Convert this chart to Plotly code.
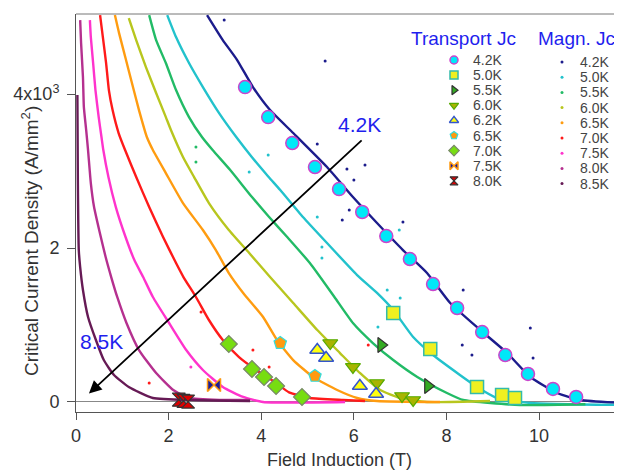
import plotly.graph_objects as go

# ---------------- data ----------------
temps_magn = ["4.2K", "5.0K", "5.5K", "6.0K", "6.5K", "7.0K", "7.5K", "8.0K", "8.5K"]
magn_colors = ["#1c1c8c", "#22c2cc", "#22bb66", "#b8c61e", "#ff9c10", "#ff1a1a", "#ff33cc", "#b5308f", "#661a55"]

m42_x = [2.83, 3.17, 3.48, 3.82, 4.19, 4.69, 5.42, 5.98, 6.50, 7.06, 7.58, 8.08, 8.73, 9.31, 9.81, 10.39, 10.89, 11.79]
m42_y = [5026, 4701, 4442, 4091, 3792, 3494, 3052, 2662, 2325, 1974, 1675, 1286, 935, 636, 325, 117, 26, -13]
m50_x = [1.97, 2.16, 2.44, 2.74, 3.09, 3.46, 3.80, 4.15, 4.41, 4.90, 5.42, 6.07, 6.50, 6.85, 7.28, 7.71, 8.29, 8.66, 9.09, 9.81, 11.79]
m50_y = [5026, 4740, 4403, 4091, 3753, 3442, 3180, 2930, 2753, 2403, 2065, 1649, 1416, 1195, 844, 610, 351, 195, 52, -13, -39]
m55_x = [1.58, 1.73, 1.94, 2.16, 2.44, 2.72, 2.95, 3.33, 3.80, 4.17, 4.56, 5.05, 5.58, 5.98, 6.41, 6.85, 7.37, 8.01, 8.36, 9.59, 11.0]
m55_y = [5026, 4701, 4403, 4052, 3701, 3442, 3273, 3013, 2662, 2403, 2143, 1805, 1364, 1026, 766, 545, 325, 117, 26, -39, -30]
m60_x = [1.14, 1.30, 1.51, 1.73, 1.94, 2.05, 2.31, 2.55, 2.87, 3.30, 3.74, 4.19, 4.69, 5.21, 5.70, 6.13, 6.57, 7.00, 7.58, 8.94]
m60_y = [4987, 4701, 4351, 4013, 3701, 3532, 3182, 2922, 2584, 2234, 1935, 1623, 1286, 935, 636, 377, 156, 52, 0, 13]
m65_x = [0.84, 0.93, 1.08, 1.23, 1.36, 1.53, 1.66, 1.94, 2.31, 2.74, 3.02, 3.30, 3.61, 4.04, 4.34, 4.69, 5.12, 5.64, 6.07, 6.50, 7.86]
m65_y = [5026, 4792, 4442, 4091, 3792, 3442, 3273, 2974, 2584, 2234, 1974, 1675, 1416, 1104, 805, 545, 325, 156, 52, 13, 0]
m70_x = [0.52, 0.58, 0.65, 0.71, 0.79, 0.92, 1.06, 1.30, 1.58, 1.88, 2.16, 2.32, 2.59, 2.87, 3.17, 3.52, 3.89, 4.32, 4.60, 5.05, 5.77, 6.24]
m70_y = [5026, 4740, 4403, 4052, 3792, 3494, 3273, 2922, 2532, 2143, 1805, 1623, 1364, 1065, 805, 584, 416, 247, 125, 52, 26, 13]
m75_x = [0.30, 0.32, 0.37, 0.42, 0.49, 0.55, 0.59, 0.70, 0.86, 1.07, 1.26, 1.45, 1.66, 2.01, 2.38, 2.74, 3.17, 3.61, 4.04, 5.81]
m75_y = [4961, 4740, 4403, 4052, 3701, 3442, 3273, 2922, 2532, 2143, 1844, 1623, 1364, 1026, 675, 416, 195, 65, 0, 0]
m80_x = [0.09, 0.11, 0.15, 0.17, 0.22, 0.26, 0.32, 0.39, 0.50, 0.64, 0.76, 0.89, 1.09, 1.36, 1.73, 2.10, 2.44, 3.11, 3.76]
m80_y = [4961, 4662, 4221, 3831, 3532, 3273, 2844, 2532, 2234, 1883, 1623, 1364, 1026, 675, 377, 156, 52, 26, 26]
m85_x = [0.03, 0.04, 0.06, 0.09, 0.15, 0.26, 0.43, 0.60, 0.82, 1.14, 1.66, 2.53, 3.76]
m85_y = [3987, 2883, 1974, 1753, 1455, 1104, 805, 545, 351, 195, 52, 26, 13]

# scattered stray points of the magnetisation data
o42_x = [3.20, 5.38, 5.21, 6.24, 5.85, 6.00, 5.90, 5.75, 7.06, 8.36, 9.81, 8.34, 8.55, 9.87]
o42_y = [4961, 4429, 3351, 3078, 3026, 2883, 2494, 2364, 2338, 1455, 961, 740, 610, 571]
o50_x = [4.15, 3.74, 5.21, 5.31, 5.31, 6.98, 6.72, 7.00, 6.52]
o50_y = [3208, 2987, 2403, 2013, 1870, 2234, 1455, 1351, 974]
o55_x = [2.59, 2.59]
o55_y = [3312, 3117]
o70_x = [2.70, 3.82, 1.58, 4.17, 6.31]
o70_y = [1169, 675, 247, 455, 740]
o75_x = [2.48]
o75_y = [455]

temps_tr = ["4.2K", "5.0K", "5.5K", "6.0K", "6.2K", "6.5K", "7.0K", "7.5K", "8.0K"]
t42_x = [3.65, 4.15, 4.67, 5.16, 5.68, 6.18, 6.70, 7.21, 7.71, 8.23, 8.77, 9.27, 9.76, 10.30, 10.80]
t42_y = [4091, 3701, 3364, 3052, 2766, 2468, 2156, 1857, 1532, 1221, 909, 610, 364, 169, 65]
t50_x = [6.85, 7.65, 8.66, 9.20, 9.48]
t50_y = [1156, 688, 195, 91, 52]
t55_x = [6.59, 7.60]
t55_y = [740, 208]
t60_x = [5.49, 5.98, 6.50, 7.04, 7.28]
t60_y = [766, 455, 247, 78, 26]
t62_x = [5.21, 5.40, 6.13, 6.48]
t62_y = [675, 571, 208, 104]
t65_x = [4.41, 5.16]
t65_y = [766, 338]
t70_x = [3.30, 3.80, 4.06, 4.32, 4.88]
t70_y = [753, 429, 325, 208, 65]
t75_x = [2.98]
t75_y = [221]
t80_x = [2.22, 2.32, 2.42]
t80_y = [30, 15, 5]

y_tickvals = [0, 2000, 4000]
y_ticktext = ["0", "2", "4x10<sup>3</sup>"]
x_tickvals = [0, 2, 4, 6, 8, 10]

# ---------------- styles ----------------
FONT = "Arial, Liberation Sans, sans-serif"
BLUE = "#1f1fee"
tr_styles = [
    dict(symbol="circle", color="#00e8f8", line=dict(color="#cc44cc", width=1.5)),
    dict(symbol="square", color="#f0f020", line=dict(color="#33bbaa", width=1.5)),
    dict(symbol="triangle-right", color="#33aa22", line=dict(color="#333333", width=1.2)),
    dict(symbol="triangle-down", color="#a8b400", line=dict(color="#55aa00", width=1.2)),
    dict(symbol="triangle-up", color="#ffff10", line=dict(color="#3355cc", width=1.5)),
    dict(symbol="pentagon", color="#ff9a10", line=dict(color="#33dddd", width=1.2)),
    dict(symbol="diamond", color="#77dd11", line=dict(color="#778866", width=1.2)),
    dict(symbol="bowtie", color="#1c1c99", line=dict(color="#ff9a10", width=1.5)),
    dict(symbol="hourglass", color="#dd0000", line=dict(color="#333333", width=1.2)),
]

magn_series = [(m42_x, m42_y), (m50_x, m50_y), (m55_x, m55_y), (m60_x, m60_y), (m65_x, m65_y),
               (m70_x, m70_y), (m75_x, m75_y), (m80_x, m80_y), (m85_x, m85_y)]
outliers = {0: (o42_x, o42_y), 1: (o50_x, o50_y), 2: (o55_x, o55_y), 5: (o70_x, o70_y), 6: (o75_x, o75_y)}
tr_series = [(t42_x, t42_y), (t50_x, t50_y), (t55_x, t55_y), (t60_x, t60_y), (t62_x, t62_y),
             (t65_x, t65_y), (t70_x, t70_y), (t75_x, t75_y), (t80_x, t80_y)]

fig = go.Figure()

for i, (xs, ys) in enumerate(magn_series):
    fig.add_trace(go.Scatter(x=xs, y=ys, mode="lines",
                             line=dict(color=magn_colors[i], width=2.4, shape="spline", smoothing=0.5),
                             showlegend=False, hoverinfo="skip"))
for i, (xs, ys) in outliers.items():
    fig.add_trace(go.Scatter(x=xs, y=ys, mode="markers", marker=dict(color=magn_colors[i], size=3),
                             showlegend=False, hoverinfo="skip"))

for i, (xs, ys) in enumerate(tr_series):
    st = tr_styles[i]
    fig.add_trace(go.Scatter(x=xs, y=ys, mode="markers",
                             marker=dict(symbol=st["symbol"], color=st["color"], line=st["line"], size=13),
                             showlegend=False))

# ---------------- layout geometry ----------------
# The page body has an 8px margin, so the figure is made 8px smaller and margins reduced by 8px.
PAGE_OFF = 8
W, H = 622 - PAGE_OFF, 472 - PAGE_OFF
PL, PR, PT, PB = 76, 622, 14, 412          # plot area in page pixels
L, T, R = PL - PAGE_OFF, PT - PAGE_OFF, 0
B = H - (PB - PAGE_OFF)
pw, ph = PR - PL, PB - PT
def px_x(p):
    return (p - PL) / pw
def px_y(p):
    return (PB - p) / ph

# ---------------- manual legends (overlay axes in 0..1 units) ----------------
tr_leg_y = [px_y(60 + 15.1 * k) for k in range(len(temps_tr))]
mg_leg_y = [px_y(62 + 15.2 * k) for k in range(len(temps_magn))]
for i, st in enumerate(tr_styles):
    fig.add_trace(go.Scatter(x=[px_x(454)], y=[tr_leg_y[i]], xaxis="x2", yaxis="y2", mode="markers",
                             marker=dict(symbol=st["symbol"], color=st["color"], line=st["line"], size=8),
                             showlegend=False, hoverinfo="skip"))
fig.add_trace(go.Scatter(x=[px_x(562)] * len(temps_magn), y=mg_leg_y, xaxis="x2", yaxis="y2", mode="markers",
                         marker=dict(color=magn_colors, size=3), showlegend=False, hoverinfo="skip"))

def note(xp, yp, text, size, color, xanchor="center", angle=0):
    return dict(x=px_x(xp), y=px_y(yp), xref="paper", yref="paper", text=text, showarrow=False,
                xanchor=xanchor, yanchor="middle", textangle=angle,
                font=dict(family=FONT, size=size, color=color))

annotations = []
for i, t in enumerate(temps_tr):
    annotations.append(note(471, 60 + 15.1 * i, t, 14, "#444", "left"))
for i, t in enumerate(temps_magn):
    annotations.append(note(578, 62 + 15.2 * i, t, 14, "#444", "left"))
annotations.append(note(463, 38, "Transport Jc", 19, BLUE))
annotations.append(note(576, 38, "Magn. Jc", 19, BLUE))
# axis titles
annotations.append(note(339, 460, "Field Induction (T)", 18, "#333"))
annotations.append(note(30, 241, "Critical Current Density (A/mm<sup>2</sup>)", 19, "#333", "center", -90))
# arrow from 4.2K to 8.5K
annotations.append(dict(x=0.28, y=110, ax=6.2, ay=3416, xref="x", yref="y", axref="x", ayref="y", text="",
                        showarrow=True, arrowhead=2, arrowsize=1.4, arrowwidth=1.8, arrowcolor="black"))
annotations.append(dict(x=6.13, y=3600, xref="x", yref="y", text="4.2K", showarrow=False,
                        font=dict(family=FONT, size=21, color=BLUE)))
annotations.append(dict(x=0.54, y=792, xref="x", yref="y", text="8.5K", showarrow=False,
                        font=dict(family=FONT, size=21, color=BLUE)))

fig.update_layout(
    width=W, height=H, margin=dict(l=L, r=R, t=T, b=B, autoexpand=False),
    paper_bgcolor="white", plot_bgcolor="white",
    font=dict(family=FONT, color="#333", size=17),
    annotations=annotations,
    shapes=[dict(type="line", xref="paper", yref="paper", x0=0, x1=1, y0=1, y1=1, line=dict(color="#777", width=1))],
    xaxis=dict(range=[0, 11.79], tickvals=x_tickvals, ticks="outside", ticklen=7, tickcolor="#555",
               showline=True, linecolor="#555", linewidth=1, showgrid=False, zeroline=False, automargin=False,
               tickfont=dict(size=18)),
    yaxis=dict(range=[-130, 5040], tickvals=y_tickvals, ticktext=y_ticktext, ticks="outside", ticklen=8,
               tickcolor="#555", showline=True, linecolor="#555", linewidth=1, showgrid=False,
               zeroline=True, zerolinecolor="#888", zerolinewidth=1, automargin=False,
               ticklabelstandoff=4, tickfont=dict(size=18)),
    xaxis2=dict(overlaying="x", range=[0, 1], visible=False, domain=[0, 1]),
    yaxis2=dict(overlaying="y", range=[0, 1], visible=False, domain=[0, 1]),
)

fig.write_html("out.html")
